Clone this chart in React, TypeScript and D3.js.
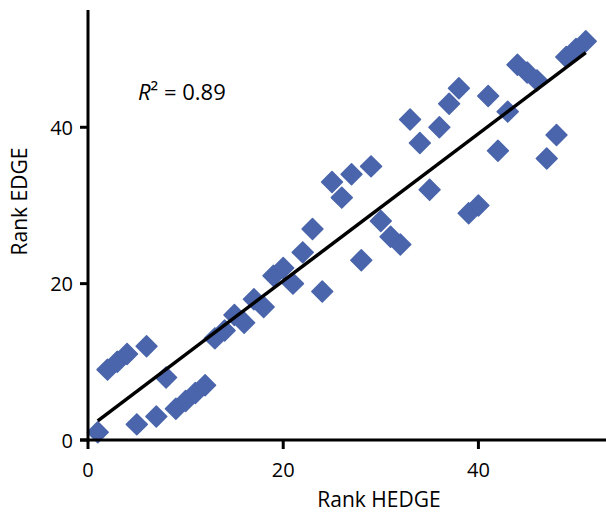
import React from "react";
import * as d3 from "d3";

const hedgeRank: number[] = [
  1, 2, 3, 4, 5, 6, 7, 8, 9, 10, 11, 12, 13, 14, 15, 16, 17, 18, 19, 20, 21, 22, 23, 24, 25, 26,
  27, 28, 29, 30, 31, 32, 33, 34, 35, 36, 37, 38, 39, 40, 41, 42, 43, 44, 45, 46, 47, 48, 49, 50, 51,
];
const edgeRank: number[] = [
  1, 9, 10, 11, 2, 12, 3, 8, 4, 5, 6, 7, 13, 14, 16, 15, 18, 17, 21, 22, 20, 24, 27, 19, 33, 31,
  34, 23, 35, 28, 26, 25, 41, 38, 32, 40, 43, 45, 29, 30, 44, 37, 42, 48, 47, 46, 36, 39, 49, 50, 51,
];
const xTicks: number[] = [0, 20, 40];
const yTicks: number[] = [0, 20, 40];
const xLabel = "Rank HEDGE";
const yLabel = "Rank EDGE";
const r2Label = "0.89";

const W = 606;
const H = 513;
const FONT = "'Open Sans', 'Noto Sans', sans-serif";
const BLUE = "#4a65ab";

export default function App() {
  const x = d3.scaleLinear().domain([0, 53]).range([88, 605.3]);
  const y = d3.scaleLinear().domain([0, 55]).range([440, 10]);

  const n = hedgeRank.length;
  const mx = d3.mean(hedgeRank) as number;
  const my = d3.mean(edgeRank) as number;
  let sxy = 0;
  let sxx = 0;
  for (let i = 0; i < n; i++) {
    sxy += (hedgeRank[i] - mx) * (edgeRank[i] - my);
    sxx += (hedgeRank[i] - mx) ** 2;
  }
  const slope = sxy / sxx;
  const intercept = my - slope * mx;
  const x0 = d3.min(hedgeRank) as number;
  const x1 = d3.max(hedgeRank) as number;
  const trend = d3
    .line<number>()
    .x((d) => x(d))
    .y((d) => y(intercept + slope * d))([x0, x1]);

  const sym = d3.symbol().type(d3.symbolDiamond2).size(2 * 11.8 * 11.8)();

  return (
    <svg width={W} height={H} style={{ display: "block", position: "absolute", left: 0, top: 0 }}>
      <rect width={W} height={H} fill="#fff" />
      {hedgeRank.map((hx, i) => (
        <path
          key={i}
          d={sym as string}
          transform={`translate(${x(hx)},${y(edgeRank[i])})`}
          fill={BLUE}
          stroke={BLUE}
          strokeWidth={1.5}
          strokeLinejoin="round"
        />
      ))}
      <path d={trend as string} stroke="#000" strokeWidth={3.5} fill="none" />
      {/* axes */}
      <line x1={x(0)} x2={x(0)} y1={y(55)} y2={y(0) + 1.5} stroke="#000" strokeWidth={3} />
      <line x1={x(0) - 8} x2={W} y1={y(0)} y2={y(0)} stroke="#000" strokeWidth={3} />
      {yTicks.map((t) => (
        <g key={"y" + t}>
          <line x1={x(0) - 8} x2={x(0)} y1={y(t)} y2={y(t)} stroke="#000" strokeWidth={3} />
          <text
            x={x(0) - 15}
            y={y(t)}
            textAnchor="end"
            dominantBaseline="central"
            fontFamily={FONT}
            fontSize={20}
            fill="#000"
          >
            {t}
          </text>
        </g>
      ))}
      {xTicks.map((t) => (
        <g key={"x" + t}>
          <line x1={x(t)} x2={x(t)} y1={y(0)} y2={y(0) + 9} stroke="#000" strokeWidth={3} />
          <text
            x={x(t)}
            y={y(0) + 29}
            textAnchor="middle"
            dominantBaseline="central"
            fontFamily={FONT}
            fontSize={20}
            fill="#000"
          >
            {t}
          </text>
        </g>
      ))}
      <text
        x={379}
        y={499}
        textAnchor="middle"
        dominantBaseline="central"
        fontFamily={FONT}
        fontSize={21}
        fill="#000"
      >
        {xLabel}
      </text>
      <text
        transform={`translate(19,${y(30.5)}) rotate(-90)`}
        textAnchor="middle"
        dominantBaseline="central"
        fontFamily={FONT}
        fontSize={21}
        fill="#000"
      >
        {yLabel}
      </text>
      <text x={138} y={91} dominantBaseline="central" fontFamily={FONT} fontSize={22} fill="#000">
        <tspan fontStyle="italic">R</tspan>
        <tspan dy={-1}>²</tspan>
        <tspan dy={1}>{" = " + r2Label}</tspan>
      </text>
    </svg>
  );
}
